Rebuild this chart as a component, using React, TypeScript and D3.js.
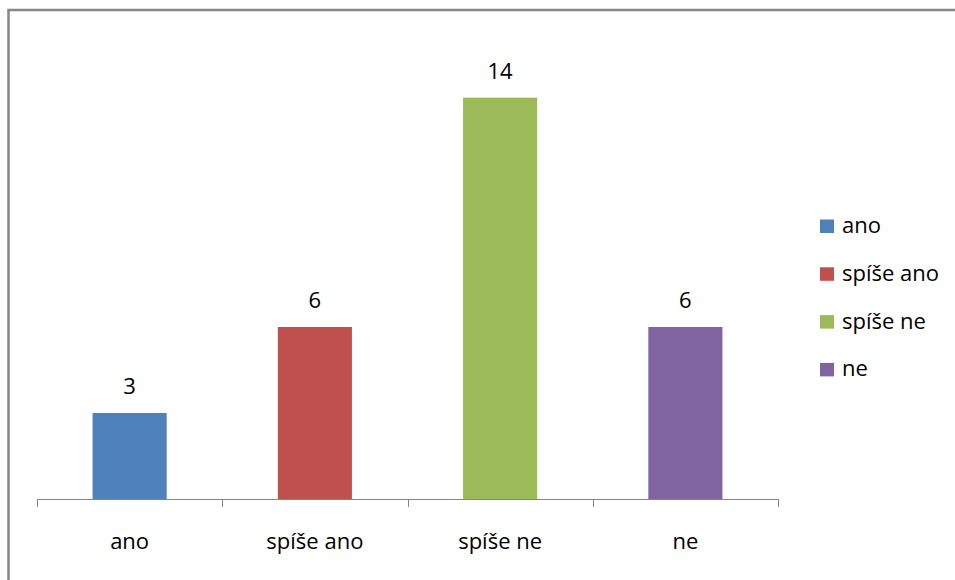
import React from "react";
import * as d3 from "d3";

const categories = ["ano", "spíše ano", "spíše ne", "ne"];
const values = [3, 6, 14, 6];
const colors = ["#4F81BD", "#C0504D", "#9BBB59", "#8064A2"];
const yMax = 16;

const W = 955;
const H = 580;
const FONT = "'Open Sans', sans-serif";

export default function App() {
  const x = d3
    .scaleBand<string>()
    .domain(categories)
    .range([37, 778])
    .paddingInner(0.6)
    .paddingOuter(0.3);
  const y = d3.scaleLinear().domain([0, yMax]).range([499, 40.3]);
  const step = x.step();
  const x0 = 37;
  const tickXs = d3.range(categories.length + 1).map((i) => x0 + i * step);

  return (
    <svg
      width={W}
      height={H}
      style={{ position: "absolute", left: 0, top: 0, display: "block", background: "#fff" }}
      fontFamily={FONT}
    >
      {/* chart frame */}
      <rect x={8.5} y={10} width={W + 20} height={H + 20} fill="none" stroke="#868686" strokeWidth={2.5} />

      {/* bars */}
      {categories.map((c, i) => (
        <rect
          key={c}
          x={x(c)}
          y={y(values[i])}
          width={x.bandwidth()}
          height={y(0) - y(values[i])}
          fill={colors[i]}
        />
      ))}

      {/* data labels */}
      {categories.map((c, i) => (
        <text
          key={c}
          x={(x(c) as number) + x.bandwidth() / 2}
          y={y(values[i]) - 19}
          textAnchor="middle"
          fontSize={22}
          fill="#000"
        >
          {values[i]}
        </text>
      ))}

      {/* category axis */}
      <line x1={x0} x2={x0 + step * categories.length} y1={y(0) + 0.5} y2={y(0) + 0.5} stroke="#868686" strokeWidth={1} />
      {tickXs.map((tx, i) => (
        <line key={i} x1={Math.round(tx) + 0.5} x2={Math.round(tx) + 0.5} y1={y(0)} y2={y(0) + 8} stroke="#868686" strokeWidth={1} />
      ))}
      {categories.map((c) => (
        <text
          key={c}
          x={(x(c) as number) + x.bandwidth() / 2}
          y={549}
          textAnchor="middle"
          fontSize={22}
          fill="#000"
        >
          {c}
        </text>
      ))}

      {/* legend */}
      {categories.map((c, i) => {
        const by = 233 + i * 47.8;
        return (
          <g key={c}>
            <rect x={820} y={by - 13.5} width={14} height={13.5} fill={colors[i]} />
            <text x={842} y={by} fontSize={22} fill="#000">
              {c}
            </text>
          </g>
        );
      })}
    </svg>
  );
}
